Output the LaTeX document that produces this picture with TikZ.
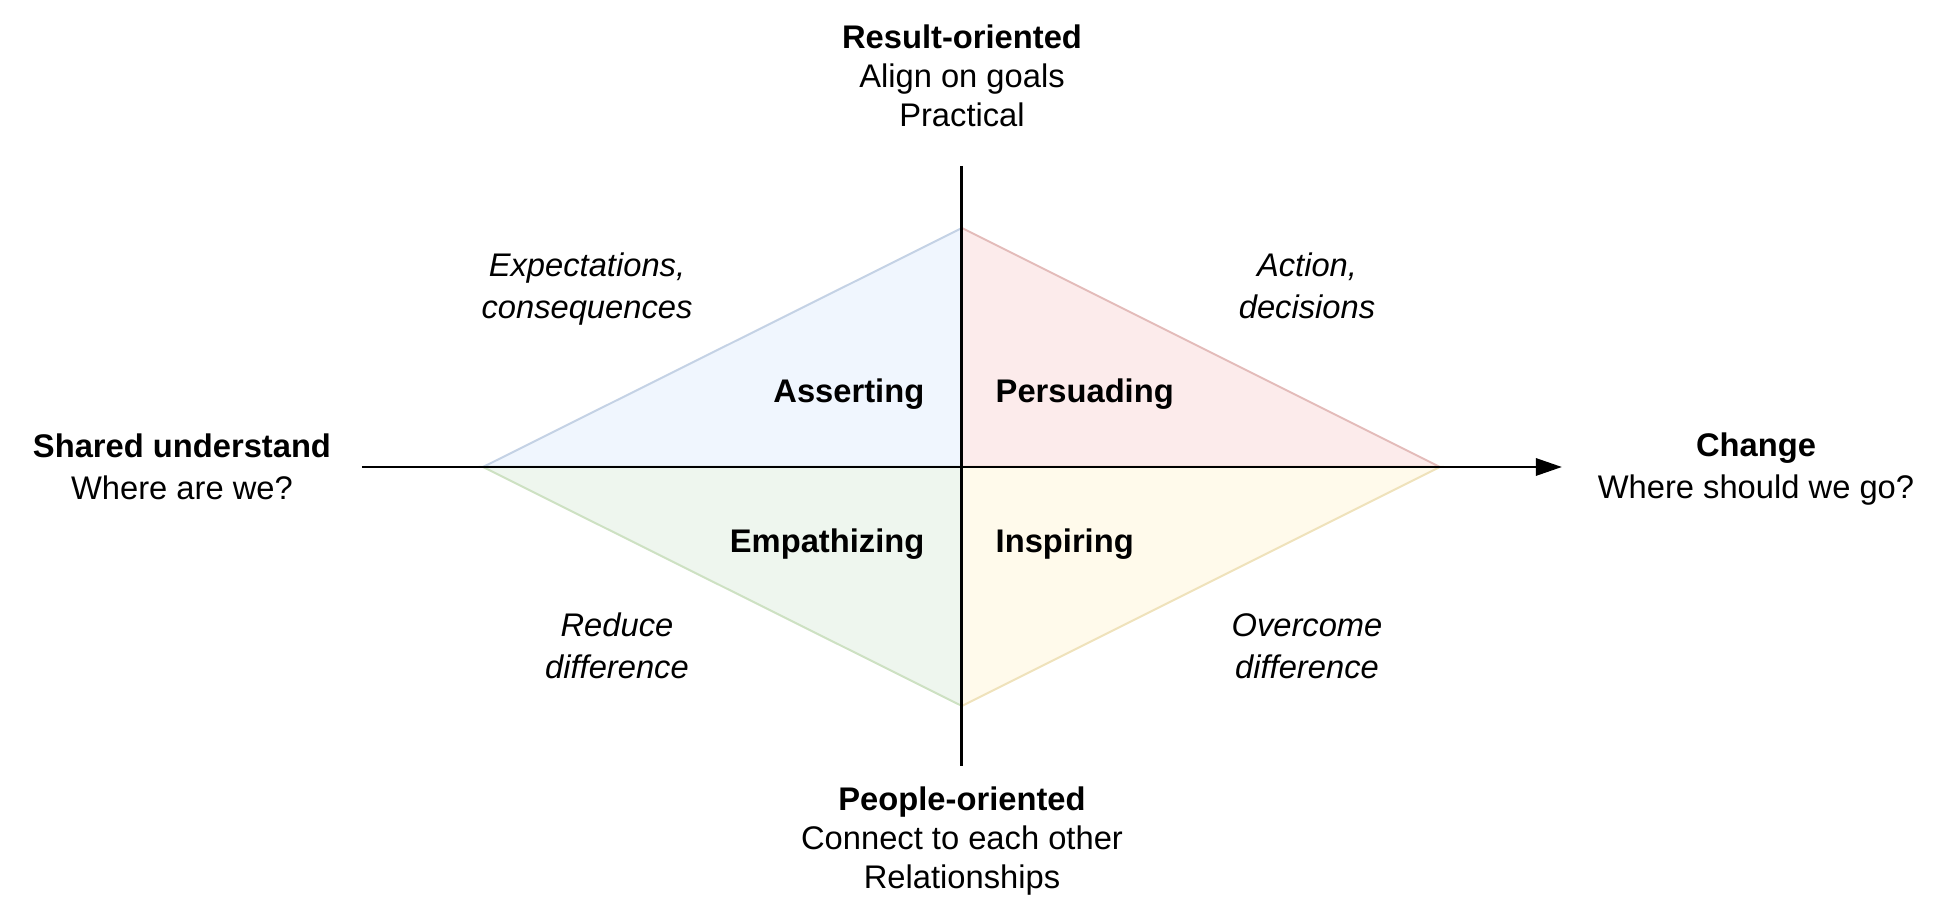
\documentclass[tikz,border=0pt]{standalone}
\usepackage{fontspec}
\setmainfont{Liberation Sans}
\usepackage{tikz}
\usetikzlibrary{arrows.meta, positioning, calc}
\definecolor{blfill}{HTML}{DAE8FC}
\definecolor{blline}{HTML}{6C8EBF}
\definecolor{rdfill}{HTML}{F8CECC}
\definecolor{rdline}{HTML}{B85450}
\definecolor{gnfill}{HTML}{D5E8D4}
\definecolor{gnline}{HTML}{82B366}
\definecolor{ywfill}{HTML}{FFF2CC}
\definecolor{ywline}{HTML}{D6B656}

\begin{document}
\begin{tikzpicture}[x=0.01cm, y=0.01cm,
  txt/.style={align=center, font=\fontsize{9.3}{11.1}\selectfont, inner sep=0pt},
  pair/.style={txt, font=\fontsize{9.3}{12}\selectfont},
  quad/.style={font=\fontsize{9.3}{11.1}\selectfont\bfseries, inner sep=0pt},
  note/.style={txt, font=\fontsize{9.3}{12}\selectfont\itshape},
  tri/.style={line width=0.57pt, line join=miter},
  axis/.style={line width=0.85pt},
  arr/.style={axis, -{Triangle[length=0.26cm, width=0.17cm]}}
]
\useasboundingbox (-962,-448) rectangle (988,467);
\coordinate (o) at (0,0);
\coordinate (dtop) at (0,239);
\coordinate (dbot) at (0,-239);
\coordinate (dleft) at (-479,0);
\coordinate (dright) at (478,0);
\coordinate (ytop) at (0,301);
\coordinate (ybot) at (0,-299);
\coordinate (xleft) at (-600,0);
\coordinate (xright) at (600,0);
% Quadrants
\filldraw[tri, draw=blline!40, fill=blfill!40] (dleft) -- (dtop) -- (o) -- cycle;
\filldraw[tri, draw=rdline!40, fill=rdfill!40] (dright) -- (dtop) -- (o) -- cycle;
\filldraw[tri, draw=gnline!40, fill=gnfill!40] (dleft) -- (dbot) -- (o) -- cycle;
\filldraw[tri, draw=ywline!40, fill=ywfill!40] (dright) -- (dbot) -- (o) -- cycle;
% Axes
\draw[axis] (ytop) -- (ybot);
\draw[arr] (xleft) -- (xright);
% Labels
\node[txt] (result) at (0,391) {\textbf{Result-oriented}\\Align on goals\\Practical};
\node[txt] (people) at (0,-374) {\textbf{People-oriented}\\Connect to each other\\Relationships};
\node[pair] (shared) at (-780,0) {\textbf{Shared understand}\\Where are we?};
\node[pair] (change) at (794,-2) {\textbf{Change}\\Where should we go?};
\node[note] (expect) at (-375,178) {Expectations,\\consequences};
\node[note] (action) at (345,181) {Action,\\decisions};
\node[note] (reduce) at (-345,-179) {Reduce\\difference};
\node[note] (overcome) at (345,-179) {Overcome\\difference};
\node[quad, anchor=base east] (assert) at (-37,64) {Asserting};
\node[quad, anchor=base west] (persuade) at (33,64) {Persuading};
\node[quad, anchor=base east] (empath) at (-37,-86) {Empathizing};
\node[quad, anchor=base west] (inspire) at (33,-86) {Inspiring};
\end{tikzpicture}
\end{document}
